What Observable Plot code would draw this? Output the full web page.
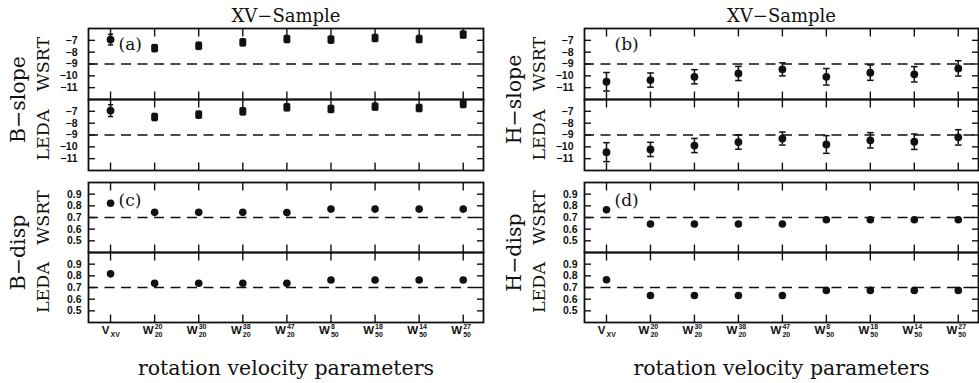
<!DOCTYPE html>
<html>
<head>
<meta charset="utf-8">
<script src="https://cdn.jsdelivr.net/npm/d3@7"></script>
<script src="https://cdn.jsdelivr.net/npm/@observablehq/plot@0.6"></script>
<style>
  body { margin: 0; background: #fff; }
  #fig { position: relative; width: 979px; height: 383px; overflow: hidden; background: #fff; }
  #fig svg { position: absolute; overflow: visible; }
  g[aria-label="row-label"] text { letter-spacing: 0.8px; }
  g[aria-label="x-title"] text { letter-spacing: 0.3px; }
</style>
</head>
<body>
<div id="fig"></div>
<script>
// Rotation-velocity parameters (x positions 1..9) and their tick labels
const categories = [1, 2, 3, 4, 5, 6, 7, 8, 9];
const tickMain = ["V", "W", "W", "W", "W", "W", "W", "W", "W"];
const tickSup  = ["", "20", "30", "38", "47", "8", "18", "14", "27"];
const tickSub  = ["XV", "20", "20", "20", "20", "50", "50", "50", "50"];

// B-band Tully-Fisher slopes
const bSlopeWSRT    = [-6.94, -7.66, -7.46, -7.17, -6.89, -6.94, -6.80, -6.89, -6.51];
const bSlopeWSRTErr = [0.45, 0.3, 0.3, 0.3, 0.3, 0.3, 0.3, 0.3, 0.3];
const bSlopeLEDA    = [-6.94, -7.48, -7.28, -7.00, -6.66, -6.80, -6.60, -6.72, -6.38];
const bSlopeLEDAErr = [0.50, 0.3, 0.3, 0.3, 0.3, 0.3, 0.3, 0.3, 0.3];
const bSlopeSymbols = ["circle", "square", "square", "square", "square", "square", "square", "square", "square"];

// H-band Tully-Fisher slopes
const hSlopeWSRT    = [-10.50, -10.36, -10.08, -9.80, -9.45, -10.08, -9.73, -9.87, -9.37];
const hSlopeWSRTErr = [0.78, 0.60, 0.60, 0.60, 0.55, 0.70, 0.65, 0.65, 0.65];
const hSlopeLEDA    = [-10.45, -10.22, -9.89, -9.60, -9.30, -9.80, -9.45, -9.57, -9.20];
const hSlopeLEDAErr = [0.80, 0.60, 0.60, 0.60, 0.55, 0.75, 0.65, 0.65, 0.65];

// Scatter (dispersion) of the relations
const bDispWSRT = [0.822, 0.744, 0.744, 0.744, 0.742, 0.772, 0.772, 0.772, 0.772];
const bDispLEDA = [0.817, 0.736, 0.736, 0.736, 0.736, 0.764, 0.764, 0.764, 0.764];
const hDispWSRT = [0.767, 0.644, 0.644, 0.644, 0.644, 0.681, 0.681, 0.681, 0.681];
const hDispLEDA = [0.767, 0.631, 0.631, 0.631, 0.631, 0.675, 0.675, 0.675, 0.675];

const sources = ["WSRT", "LEDA"];
const slopeTicks = [-11, -10, -9, -8, -7];
const dispTicks = [0.5, 0.6, 0.7, 0.8, 0.9];
const slopeRef = -9;
const dispRef = 0.7;

const ink = "#111";
const serif = "'DejaVu Serif', 'Liberation Serif', serif";
const tickFont = "'Liberation Sans', Arial, sans-serif";

// horizontal end cap for the error bars
const capSymbol = {
  draw(context, size) {
    const w = Math.sqrt(size / Math.PI);
    context.moveTo(-w, 0);
    context.lineTo(w, 0);
  }
};

function rows(src, values, errs, symbols) {
  return values.map((v, k) => ({
    src, i: categories[k], v,
    e: errs ? errs[k] : 0,
    sym: symbols ? symbols[k] : "circle"
  }));
}

const fmtSlope = d => (d < 0 ? "\u2212" + (-d) : String(d));
const fmtDisp = d => d.toFixed(1);

function panel(cfg) {
  const data = [
    ...rows("WSRT", cfg.wsrt, cfg.wsrtErr, cfg.symbols),
    ...rows("LEDA", cfg.leda, cfg.ledaErr, cfg.symbols)
  ];
  const withErr = data.filter(d => d.e > 0);
  const marks = [
    Plot.ruleY([cfg.ref], {stroke: ink, strokeWidth: 1.4, strokeDasharray: "10,6.5"}),
    Plot.axisX({anchor: "top", ticks: categories, tickSize: -7.5, tickFormat: () => "", label: null, facetAnchor: null, stroke: ink, strokeWidth: 1.4}),
    Plot.axisX({anchor: "bottom", ticks: categories, tickSize: -7.5, tickFormat: () => "", label: null, facetAnchor: null, stroke: ink, strokeWidth: 1.4}),
    Plot.axisY({anchor: "left", ticks: cfg.yTicks, tickSize: -7, tickFormat: () => "", label: null, facetAnchor: null, stroke: ink, strokeWidth: 1.4}),
    Plot.axisY({anchor: "right", ticks: cfg.yTicks, tickSize: -7, tickFormat: () => "", label: null, facetAnchor: null, stroke: ink, strokeWidth: 1.4}),
    Plot.axisY({anchor: "left", ticks: cfg.yTicks, tickSize: 0, tickPadding: cfg.tickPadding, tickFormat: cfg.fmt, label: null, facetAnchor: null,
      fontFamily: tickFont, fontSize: 10.5, fontWeight: "bold", fill: ink}),
    Plot.frame({stroke: ink, strokeWidth: 1.8}),
    // error bars
    Plot.ruleX(withErr, {x: "i", y1: d => d.v - d.e, y2: d => d.v + d.e, fy: "src", stroke: ink, strokeWidth: 1.5}),
    Plot.dot(withErr, {x: "i", y: d => d.v - d.e, fy: "src", symbol: capSymbol, r: cfg.capR, stroke: ink, strokeWidth: 1.5, fill: "none"}),
    Plot.dot(withErr, {x: "i", y: d => d.v + d.e, fy: "src", symbol: capSymbol, r: cfg.capR, stroke: ink, strokeWidth: 1.5, fill: "none"}),
    // points
    Plot.dot(data.filter(d => d.sym === "circle"), {x: "i", y: "v", fy: "src", symbol: "circle", r: cfg.r, fill: ink}),
    Plot.dot(data.filter(d => d.sym === "square"), {x: "i", y: "v", fy: "src", symbol: "square", r: 3.9, fill: ink}),
    // panel letter
    Plot.text([{src: "WSRT", t: cfg.letter}], {fy: "src", text: "t", frameAnchor: "top-left", dx: 30, dy: cfg.letterDy,
      lineAnchor: "bottom", textAnchor: "start", fontSize: 17, fontFamily: serif, fill: ink}),
    // row labels (data source)
    Plot.text(sources.map(s => ({src: s})), {fy: "src", text: "src", frameAnchor: "left", dx: -45, rotate: -90,
      textAnchor: "middle", lineAnchor: "middle", fontSize: 17.5, fontFamily: serif, fill: ink, ariaLabel: "row-label"}),
    // quantity label spanning both rows
    Plot.text([{src: "WSRT", t: cfg.quantity}], {fy: "src", text: "t", frameAnchor: "bottom-left", dx: -70, rotate: -90,
      textAnchor: "middle", lineAnchor: "middle", fontSize: 20.5, fontFamily: serif, fill: ink})
  ];
  if (cfg.title) {
    marks.push(Plot.text([{src: "WSRT", t: cfg.title}], {fy: "src", text: "t", frameAnchor: "top", dy: -6.5,
      lineAnchor: "bottom", fontSize: 18, fontFamily: serif, fill: ink}));
  }
  if (cfg.xLabels) {
    const lab = categories.map((i, k) => ({src: "LEDA", i, main: tickMain[k], sup: tickSup[k], sub: tickSub[k]}));
    const common = {x: "i", fy: "src", frameAnchor: "bottom", lineAnchor: "bottom", fontFamily: tickFont, fontWeight: "bold", fill: ink};
    marks.push(
      Plot.text(lab, {...common, text: "main", dy: 11, dx: -1, textAnchor: "end", fontSize: 11.5}),
      Plot.text(lab, {...common, text: "sup", dy: 6.8, dx: 0, textAnchor: "start", fontSize: 7}),
      Plot.text(lab, {...common, text: "sub", dy: 14, dx: 0, textAnchor: "start", fontSize: 7}),
      Plot.text([{src: "LEDA", t: "rotation velocity parameters"}], {fy: "src", text: "t", frameAnchor: "bottom", dy: 52,
        lineAnchor: "bottom", fontSize: 20.5, fontFamily: serif, fill: ink, ariaLabel: "x-title"})
    );
  }
  const svg = Plot.plot({
    width: cfg.width, height: cfg.height,
    marginLeft: cfg.marginLeft, marginRight: cfg.marginRight,
    marginTop: cfg.marginTop, marginBottom: cfg.marginBottom,
    x: {domain: [0.5, 9.46]},
    y: {domain: cfg.yDomain},
    fy: {domain: sources, padding: 0, axis: null},
    style: {background: "none", overflow: "visible", fontFamily: serif, color: ink},
    marks
  });
  svg.style.left = cfg.left + "px";
  svg.style.top = cfg.top + "px";
  document.getElementById("fig").appendChild(svg);
}

const leftCol = {left: 0, width: 490, marginLeft: 88, marginRight: 7};
const rightCol = {left: 490, width: 489, marginLeft: 94, marginRight: 1};
const slopeRow = {top: 0, height: 172, marginTop: 28, marginBottom: 2, yDomain: [-12, -6], yTicks: slopeTicks,
  ref: slopeRef, fmt: fmtSlope, tickPadding: 11, title: "XV\u2212Sample", letterDy: 21, r: 3.9, capR: 3.3};
const dispRow = {top: 172, height: 211, marginTop: 9, marginBottom: 61, yDomain: [0.4, 1.0], yTicks: dispTicks,
  ref: dispRef, fmt: fmtDisp, tickPadding: 7, xLabels: true, letterDy: 23, r: 3.8, capR: 3};

panel({...leftCol, ...slopeRow, wsrt: bSlopeWSRT, wsrtErr: bSlopeWSRTErr, leda: bSlopeLEDA, ledaErr: bSlopeLEDAErr,
  symbols: bSlopeSymbols, letter: "(a)", quantity: "B\u2212slope", capR: 2.6});
panel({...rightCol, ...slopeRow, wsrt: hSlopeWSRT, wsrtErr: hSlopeWSRTErr, leda: hSlopeLEDA, ledaErr: hSlopeLEDAErr,
  letter: "(b)", quantity: "H\u2212slope"});
panel({...leftCol, ...dispRow, wsrt: bDispWSRT, leda: bDispLEDA, letter: "(c)", quantity: "B\u2212disp"});
panel({...rightCol, ...dispRow, wsrt: hDispWSRT, leda: hDispLEDA, letter: "(d)", quantity: "H\u2212disp"});
</script>
</body>
</html>
